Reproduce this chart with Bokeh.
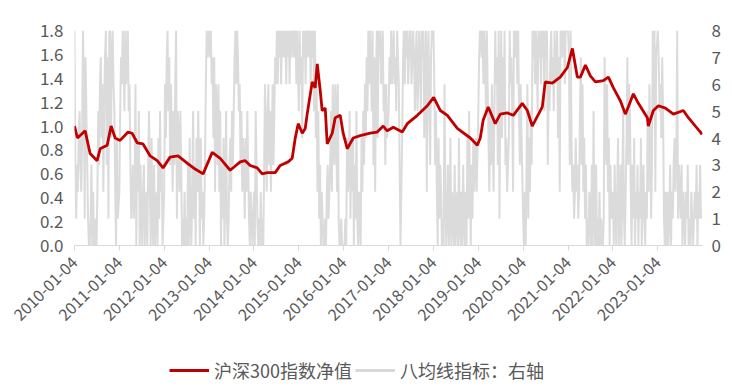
import pandas as pd
from math import pi
from bokeh.plotting import figure
from bokeh.layouts import column
from bokeh.models import (Range1d, LinearAxis, FixedTicker, DatetimeTickFormatter,
                          NumeralTickFormatter, Legend, LegendItem, ColumnDataSource)
from bokeh.embed import file_html
from bokeh.resources import INLINE

# ---- data ----
nav_dates = ["2010-01-04", "2010-01-28", "2010-04-01", "2010-05-11", "2010-07-07", "2010-08-01",
             "2010-09-27", "2010-10-29", "2010-12-01", "2011-01-10", "2011-03-16", "2011-04-18",
             "2011-05-29", "2011-07-16", "2011-09-12", "2011-11-08", "2011-12-26", "2012-02-21",
             "2012-04-26", "2012-07-09", "2012-09-12", "2012-11-16", "2013-01-29", "2013-04-04",
             "2013-06-24", "2013-09-14", "2013-10-25", "2013-12-04", "2014-01-30", "2014-03-12",
             "2014-04-22", "2014-06-26", "2014-08-05", "2014-10-09", "2014-11-11", "2014-12-06",
             "2014-12-30", "2015-02-01", "2015-02-25", "2015-03-13", "2015-04-23", "2015-05-17",
             "2015-06-03", "2015-06-27", "2015-07-13", "2015-08-07", "2015-08-23", "2015-10-03",
             "2015-10-27", "2015-12-07", "2015-12-31", "2016-02-02", "2016-03-22", "2016-05-18",
             "2016-08-07", "2016-10-03", "2016-11-21", "2016-12-23", "2017-02-11", "2017-04-25",
             "2017-06-05", "2017-08-26", "2017-11-15", "2018-01-06", "2018-03-01", "2018-04-27",
             "2018-07-17", "2018-10-31", "2018-12-27", "2019-01-20", "2019-02-13", "2019-03-26",
             "2019-05-22", "2019-07-02", "2019-08-28", "2019-10-16", "2019-12-28", "2020-02-07",
             "2020-03-18", "2020-06-08", "2020-07-02", "2020-08-28", "2020-11-01", "2020-12-29",
             "2021-02-08", "2021-03-20", "2021-04-14", "2021-05-25", "2021-07-04", "2021-08-14",
             "2021-10-18", "2021-11-28", "2022-01-08", "2022-03-06", "2022-04-15", "2022-05-09",
             "2022-06-19", "2022-07-30", "2022-10-11", "2022-10-19", "2022-11-29", "2023-01-09",
             "2023-03-07", "2023-05-11", "2023-07-31", "2023-09-10", "2023-11-06", "2023-12-17",
             "2023-12-29"]
nav_values = [1.00, 0.90, 0.96, 0.77, 0.71, 0.81,
              0.84, 1.00, 0.90, 0.88, 0.95, 0.94,
              0.86, 0.85, 0.75, 0.71, 0.65, 0.74,
              0.75, 0.69, 0.64, 0.60, 0.78, 0.73,
              0.63, 0.70, 0.71, 0.67, 0.65, 0.60,
              0.61, 0.61, 0.67, 0.70, 0.73, 0.90,
              1.02, 0.94, 0.98, 1.10, 1.37, 1.32,
              1.52, 1.30, 1.13, 1.15, 0.85, 0.94,
              1.07, 1.09, 0.94, 0.81, 0.90, 0.92,
              0.94, 0.95, 1.00, 0.96, 0.99, 0.95,
              1.02, 1.09, 1.17, 1.24, 1.13, 1.09,
              0.98, 0.90, 0.84, 0.90, 1.05, 1.16,
              1.02, 1.10, 1.11, 1.09, 1.19, 1.13,
              1.00, 1.16, 1.37, 1.36, 1.41, 1.49,
              1.65, 1.41, 1.41, 1.51, 1.42, 1.37,
              1.38, 1.41, 1.32, 1.21, 1.10, 1.16,
              1.27, 1.19, 1.07, 1.00, 1.13, 1.17,
              1.15, 1.10, 1.13, 1.07, 1.00, 0.95,
              0.93]

# eight-moving-average indicator (0-8), roughly weekly readings, one string per year
ind_years = [2010, 2011, 2012, 2013, 2014, 2015, 2016, 2017, 2018, 2019, 2020, 2021, 2022, 2023]
ind_weekly = [
    "8313245324861753100130201002536746257837188478652041",
    "2576875867856312312604250310230120352041030120415230",
    "2647857364253681542530102010304102513042530412013687",
    "8786747265362503140251013425357868756352431425310210",
    "2053101020103642563524635768687868787868786878878868",
    "5867487868878868785846251302100102312352643652610010",
    "0010423514240315102104253647586875837268487867856364",
    "5768678675876302478687867886787578568758784682785378",
    "8635204132010620130140210301204102031020415203142342",
    "5788786875864253642586738168475834234867528788685364",
    "1020361425387868758786878587836578675867847288788688",
    "8738423124231257362413010210305103010201001753624031",
    "2031024013025102473652031402130214023102152641385827",
    "87564751020201302134238132130210213010210121302131",
]

x_tick_labels = ["2010-01-04", "2011-01-04", "2012-01-04", "2013-01-04", "2014-01-04",
                 "2015-01-04", "2016-01-04", "2017-01-04", "2018-01-04", "2019-01-04",
                 "2020-01-04", "2021-01-04", "2022-01-04", "2023-01-04"]
left_ticks = [0.0, 0.2, 0.4, 0.6, 0.8, 1.0, 1.2, 1.4, 1.6, 1.8]
right_ticks = [0, 1, 2, 3, 4, 5, 6, 7, 8]

name_nav = "沪深300指数净值"
name_ind = "八均线指标：右轴"

# ---- build sources ----
nav_src = ColumnDataSource(dict(x=pd.to_datetime(nav_dates), y=nav_values))

ind_x, ind_y = [], []
for yr, s in zip(ind_years, ind_weekly):
    start = pd.Timestamp(f"{yr}-01-04")
    span = (pd.Timestamp(f"{yr}-12-29") - start).days
    n = len(s)
    for i, ch in enumerate(s):
        ind_x.append(start + pd.Timedelta(days=span * i / n))
        ind_y.append(int(ch))
ind_src = ColumnDataSource(dict(x=ind_x, y=ind_y))

FONT = "Noto Sans CJK SC"
TXT = "#595959"
RED = "#c00000"
GRAY = "#bdbdbd"

p = figure(width=732, height=340, x_axis_type="datetime",
           x_range=Range1d(pd.Timestamp("2010-01-04"), pd.Timestamp("2024-01-03")),
           y_range=Range1d(0, 1.8),
           output_backend="svg", toolbar_location=None,
           min_border_left=74, min_border_right=30, min_border_top=30, min_border_bottom=95)
p.outline_line_color = None
p.xgrid.visible = False
p.ygrid.visible = False

p.extra_y_ranges = {"r": Range1d(0, 8)}
ax_r = LinearAxis(y_range_name="r", ticker=FixedTicker(ticks=right_ticks))
p.add_layout(ax_r, "right")

gray = p.line("x", "y", source=ind_src, y_range_name="r", line_color=GRAY,
              line_alpha=0.55, line_width=2)
red = p.line("x", "y", source=nav_src, line_color=RED, line_width=2.8)

# x axis
xa = p.xaxis[0]
xa.ticker = FixedTicker(ticks=[pd.Timestamp(t).value / 1e6 for t in x_tick_labels])
fmt = "%Y-%m-%d"
xa.formatter = DatetimeTickFormatter(microseconds=fmt, milliseconds=fmt, seconds=fmt,
                                     minsec=fmt, minutes=fmt, hourmin=fmt, hours=fmt,
                                     days=fmt, months=fmt, years=fmt)
xa.major_label_orientation = pi / 4
xa.axis_line_color = "#d9d9d9"
xa.major_tick_line_color = "#d9d9d9"
xa.major_tick_out = 5
xa.major_tick_in = 0
xa.minor_tick_line_color = None
xa.major_label_standoff = 9

ya = p.yaxis[0]
ya.ticker = FixedTicker(ticks=left_ticks)
ya.formatter = NumeralTickFormatter(format="0.0")
for ax in (ya, ax_r):
    ax.axis_line_color = None
    ax.major_tick_line_color = None
    ax.minor_tick_line_color = None
    ax.major_tick_out = 0
    ax.major_tick_in = 0
ya.major_label_standoff = 11
ax_r.major_label_standoff = 9

for ax in (xa, ya, ax_r):
    ax.major_label_text_font = FONT
    ax.major_label_text_font_size = "17px"
    ax.major_label_text_color = TXT
xa.major_label_text_font_size = "16px"

# ---- legend strip below the chart ----
lg = figure(width=732, height=47, x_range=Range1d(0, 1), y_range=Range1d(0, 1),
            x_axis_location=None, y_axis_location=None,
            output_backend="svg", toolbar_location=None, min_border=0)
lg.grid.visible = False
lg.outline_line_color = None
# swatch renderers (kept outside the visible range; only their legend glyphs show)
sw_red = lg.line(x=[-5, -4], y=[-5, -4], line_color=RED, line_width=2.8)
sw_gray = lg.line(x=[-5, -4], y=[-5, -4], line_color="#d9d9d9", line_width=2.8)

legend = Legend(items=[LegendItem(label=name_nav, renderers=[sw_red]),
                       LegendItem(label=name_ind, renderers=[sw_gray])],
                orientation="horizontal", location=(95, 4),
                glyph_width=40, glyph_height=20, label_standoff=5, spacing=3,
                padding=0, margin=0, border_line_color=None, background_fill_alpha=0,
                label_text_font=FONT, label_text_font_size="18px", label_text_color=TXT)
lg.add_layout(legend)

layout = column(p, lg, spacing=0)
open("out.html", "w").write(file_html(layout, INLINE))
